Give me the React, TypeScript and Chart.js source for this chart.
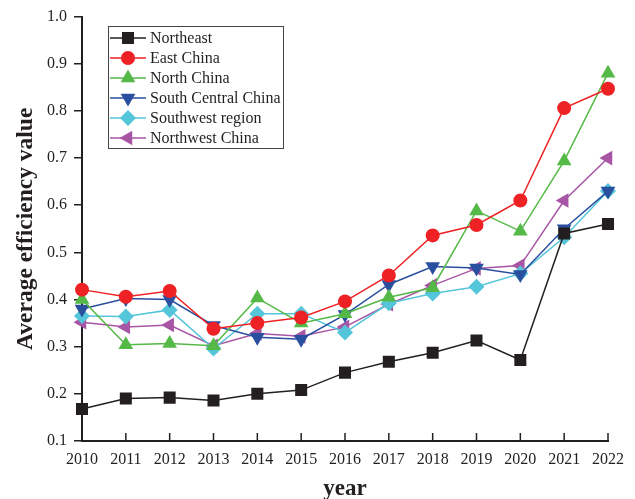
import React, { useEffect, useRef } from "react";
import { Chart, registerables } from "chart.js";

Chart.register(...registerables);

const years = ["2010", "2011", "2012", "2013", "2014", "2015", "2016", "2017", "2018", "2019", "2020", "2021", "2022"];
const northeast = [0.168, 0.19, 0.192, 0.186, 0.2, 0.208, 0.245, 0.268, 0.287, 0.313, 0.272, 0.54, 0.56];
const eastChina = [0.421, 0.406, 0.418, 0.338, 0.35, 0.362, 0.396, 0.451, 0.536, 0.558, 0.61, 0.806, 0.847];
const northChina = [0.4, 0.304, 0.307, 0.302, 0.403, 0.35, 0.37, 0.405, 0.425, 0.588, 0.545, 0.694, 0.88];
const southCentral = [0.38, 0.402, 0.4, 0.345, 0.32, 0.316, 0.368, 0.432, 0.47, 0.467, 0.453, 0.55, 0.63];
const southwest = [0.365, 0.364, 0.378, 0.296, 0.37, 0.37, 0.33, 0.392, 0.413, 0.427, 0.455, 0.532, 0.63];
const northwest = [0.352, 0.342, 0.346, 0.302, 0.328, 0.322, 0.342, 0.39, 0.43, 0.466, 0.472, 0.61, 0.7];
const yTicks = [0.1, 0.2, 0.3, 0.4, 0.5, 0.6, 0.7, 0.8, 0.9, 1.0];

const FONT = "'Liberation Serif', 'Times New Roman', serif";

const series = [
  { label: "Northeast", data: northeast, color: "#231f20", style: "rect", rot: 0, r: 8.5 },
  { label: "East China", data: eastChina, color: "#ee2124", style: "circle", rot: 0, r: 7 },
  { label: "North China", data: northChina, color: "#55b947", style: "triangle", rot: 0, r: 8.5 },
  { label: "South Central China", data: southCentral, color: "#2a4f9f", style: "triangle", rot: 180, r: 8.5 },
  { label: "Southwest region", data: southwest, color: "#55c6d9", style: "rectRot", rot: 0, r: 8 },
  { label: "Northwest China", data: northwest, color: "#a855a5", style: "triangle", rot: -90, r: 8.5 },
];

function marker(ctx: CanvasRenderingContext2D, style: string, rot: number, r: number, x: number, y: number) {
  ctx.save();
  ctx.translate(x, y);
  ctx.rotate((rot * Math.PI) / 180);
  ctx.beginPath();
  if (style === "circle") {
    ctx.arc(0, 0, r, 0, Math.PI * 2);
  } else if (style === "rect") {
    const s = r * Math.SQRT1_2;
    ctx.rect(-s, -s, 2 * s, 2 * s);
  } else if (style === "rectRot") {
    ctx.moveTo(0, -r);
    ctx.lineTo(r, 0);
    ctx.lineTo(0, r);
    ctx.lineTo(-r, 0);
    ctx.closePath();
  } else {
    const sz = (r * 3) / Math.sqrt(3);
    const h = (sz * Math.sqrt(3)) / 2;
    ctx.moveTo(0, (-h * 2) / 3);
    ctx.lineTo(sz / 2, h / 3);
    ctx.lineTo(-sz / 2, h / 3);
    ctx.closePath();
  }
  ctx.fill();
  ctx.restore();
}

const innerTicksPlugin = {
  id: "innerXTicks",
  beforeDatasetsDraw(chart: any) {
    const ctx = chart.ctx;
    const xs = chart.scales.x;
    const bottom = chart.chartArea.bottom;
    ctx.save();
    ctx.strokeStyle = "#231f20";
    ctx.lineWidth = 1.5;
    xs.ticks.forEach((_t: any, i: number) => {
      const x = xs.getPixelForTick(i);
      ctx.beginPath();
      ctx.moveTo(x, bottom);
      ctx.lineTo(x, bottom - 8);
      ctx.stroke();
    });
    ctx.restore();
  },
};

const legendPlugin = {
  id: "boxLegend",
  afterDraw(chart: any) {
    const ctx = chart.ctx;
    const x0 = 108, y0 = 26, w = 175, h = 122;
    ctx.save();
    ctx.fillStyle = "#fff";
    ctx.fillRect(x0, y0, w, h);
    ctx.strokeStyle = "#444";
    ctx.lineWidth = 1;
    ctx.strokeRect(x0 + 0.5, y0 + 0.5, w, h);
    ctx.font = `16px ${FONT}`;
    ctx.textBaseline = "middle";
    chart.data.datasets.forEach((ds: any, i: number) => {
      const cy = y0 + 12 + i * 20;
      ctx.strokeStyle = ds.borderColor;
      ctx.lineWidth = 1.5;
      ctx.beginPath();
      ctx.moveTo(x0 + 2, cy);
      ctx.lineTo(x0 + 38, cy);
      ctx.stroke();
      ctx.fillStyle = ds.borderColor;
      marker(ctx, ds.pointStyle, ds.pointRotation, ds.pointRadius, x0 + 20, cy);
      ctx.fillStyle = "#231f20";
      ctx.fillText(ds.label, x0 + 42, cy + 1);
    });
    ctx.restore();
  },
};

export default function App() {
  const ref = useRef<HTMLCanvasElement>(null);
  useEffect(() => {
    document.body.style.margin = "0";
    const chart = new Chart(ref.current!, {
      type: "line",
      data: {
        labels: years,
        datasets: series.map((s) => ({
          label: s.label,
          data: s.data,
          borderColor: s.color,
          backgroundColor: s.color,
          pointBackgroundColor: s.color,
          pointBorderColor: s.color,
          pointBorderWidth: 0,
          pointStyle: s.style as any,
          pointRotation: s.rot,
          pointRadius: s.r,
          borderWidth: 1.5,
          tension: 0,
        })),
      },
      options: {
        animation: false,
        responsive: false,
        devicePixelRatio: 1,
        layout: { padding: { top: 16, right: 27, left: 4, bottom: 0 } },
        plugins: { legend: { display: false }, tooltip: { enabled: false } },
        scales: {
          x: {
            type: "category",
            offset: false,
            afterFit: (scale: any) => {
              scale.height = 58;
            },
            grid: { display: false, drawTicks: false },
            border: { display: true, color: "#231f20", width: 2 },
            ticks: { color: "#231f20", font: { family: FONT, size: 16 }, padding: 9, maxRotation: 0, autoSkip: false },
            title: { display: true, text: "year", color: "#231f20", font: { family: FONT, size: 23, weight: "bold" }, padding: { top: 0, bottom: -4 } },
          },
          y: {
            min: 0.1,
            max: 1.0,
            afterFit: (scale: any) => {
              scale.width = 78;
            },
            afterBuildTicks: (scale: any) => {
              scale.ticks = yTicks.map((v) => ({ value: v }));
            },
            grid: { display: true, drawOnChartArea: false, drawTicks: true, tickLength: 8, color: "#231f20", lineWidth: 1.5 },
            border: { display: true, color: "#231f20", width: 2 },
            ticks: { color: "#231f20", font: { family: FONT, size: 16 }, padding: 7, callback: (v: any) => Number(v).toFixed(1) },
            title: { display: true, text: "Average efficiency value", color: "#231f20", font: { family: FONT, size: 23.5, weight: "bold" }, padding: { top: 8, bottom: 4 } },
          },
        },
      },
      plugins: [innerTicksPlugin, legendPlugin],
    });
    return () => chart.destroy();
  }, []);
  return (
    <div style={{ position: "absolute", left: 0, top: 0, width: 635, height: 499, background: "#fff" }}>
      <canvas ref={ref} width={635} height={499} style={{ width: 635, height: 499 }} />
    </div>
  );
}
